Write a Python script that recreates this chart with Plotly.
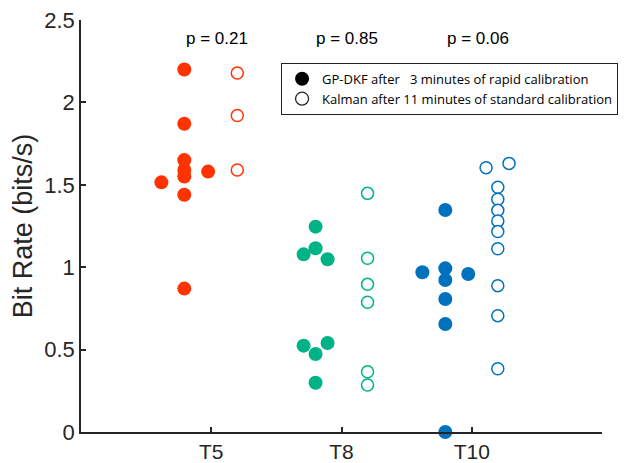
import plotly.graph_objects as go

categories = ["T5", "T8", "T10"]
cat_pos = [1, 2, 3]
colors = ["#FF3300", "#00B386", "#0072BD"]
p_labels = ["p = 0.21", "p = 0.85", "p = 0.06"]

# GP-DKF (filled) values per subject with horizontal jitter offsets (category units)
gp_vals = [
    [2.20, 1.87, 1.65, 1.59, 1.55, 1.44, 0.87, 1.515, 1.58],
    [1.246, 1.115, 1.078, 1.048, 0.524, 0.540, 0.473, 0.299],
    [1.347, 0.993, 0.969, 0.959, 0.922, 0.807, 0.655, 0.0],
]
gp_off = [
    [-0.207, -0.207, -0.207, -0.207, -0.207, -0.207, -0.207, -0.383, -0.024],
    [-0.199, -0.199, -0.291, -0.107, -0.291, -0.107, -0.199, -0.199],
    [-0.203, -0.203, -0.379, -0.027, -0.203, -0.203, -0.203, -0.203],
]
# Kalman (open) values
kf_vals = [
    [2.178, 1.921, 1.59],
    [1.448, 1.054, 0.896, 0.787, 0.366, 0.285],
    [1.604, 1.630, 1.485, 1.412, 1.345, 1.280, 1.216, 1.112, 0.888, 0.706, 0.384],
]
kf_off = [
    [0.20, 0.20, 0.20],
    [0.20, 0.20, 0.20, 0.20, 0.20, 0.20],
    [0.11, 0.286, 0.20, 0.20, 0.20, 0.20, 0.20, 0.20, 0.20, 0.20, 0.20],
]

fig = go.Figure()
for i in range(3):
    fig.add_trace(go.Scatter(
        x=[cat_pos[i] + o for o in gp_off[i]], y=gp_vals[i], mode="markers",
        marker=dict(color=colors[i], size=14, line=dict(width=0)),
        showlegend=False, cliponaxis=False, hoverinfo="y"))
    fig.add_trace(go.Scatter(
        x=[cat_pos[i] + o for o in kf_off[i]], y=kf_vals[i], mode="markers",
        marker=dict(color="white", size=12, line=dict(color=colors[i], width=1.5)),
        showlegend=False, cliponaxis=False, hoverinfo="y"))

fig.add_trace(go.Scatter(x=[None], y=[None], mode="markers",
                         marker=dict(color="black", size=14),
                         name="GP-DKF after \u00a0 3 minutes of rapid calibration"))
fig.add_trace(go.Scatter(x=[None], y=[None], mode="markers",
                         marker=dict(color="white", size=13, line=dict(color="#222", width=1.3)),
                         name="Kalman after 11 minutes of standard calibration"))

for i in range(3):
    fig.add_annotation(x=cat_pos[i] + 0.045, y=2.385, text=p_labels[i], showarrow=False,
                       font=dict(size=17, color="black", family="Liberation Sans, Arial"),
                       xanchor="center", yanchor="middle")

fig.update_layout(
    width=630, height=463,
    margin=dict(l=81, r=28, t=20, b=31),
    paper_bgcolor="white", plot_bgcolor="white",
    font=dict(family="Liberation Sans, Arial", color="#262626"),
    xaxis=dict(range=[0, 4], tickvals=cat_pos, ticktext=categories, automargin=False,
               showgrid=False, zeroline=False, showline=True, linecolor="#262626",
               linewidth=1.5, ticks="inside", ticklen=5, tickwidth=1.5, tickcolor="#262626",
               tickfont=dict(size=21, color="#262626")),
    yaxis=dict(range=[0, 2.5], tickvals=[0, 0.5, 1, 1.5, 2, 2.5], automargin=False,
               ticktext=["0", "0.5", "1", "1.5", "2", "2.5"],
               showgrid=False, zeroline=False, showline=True, linecolor="#262626",
               linewidth=1.5, ticks="inside", ticklen=5, tickwidth=1.5, tickcolor="#262626",
               tickfont=dict(size=22, color="#262626")),
    legend=dict(x=0.384, y=0.896, xanchor="left", yanchor="top",
                bordercolor="#222", borderwidth=1, bgcolor="white",
                font=dict(size=13, family="Open Sans, Arial", color="black"),
                itemwidth=30, tracegroupgap=0),
    showlegend=True,
)
fig.update_yaxes(title=dict(text="Bit Rate (bits/s)", font=dict(size=27, color="#262626"), standoff=4))

fig.write_html("out.html")
